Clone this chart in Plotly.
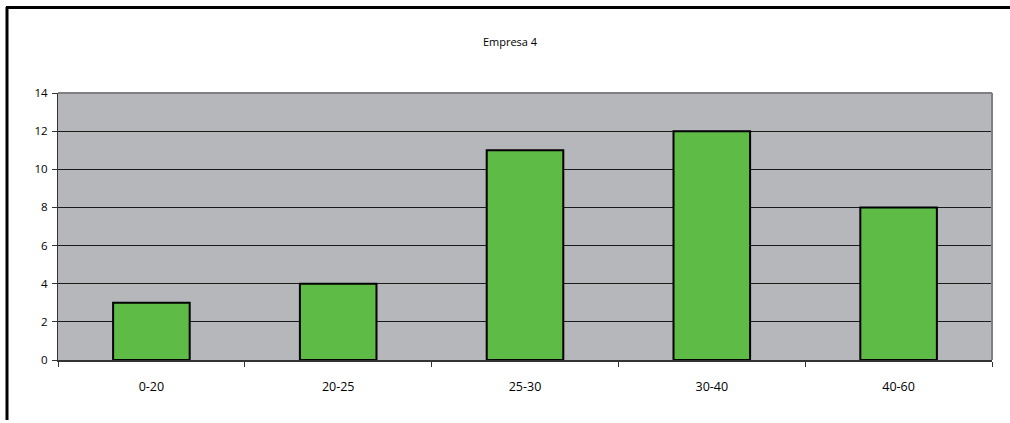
import plotly.graph_objects as go

categories = ["0-20", "20-25", "25-30", "30-40", "40-60"]
values = [3, 4, 11, 12, 8]
y_ticks = [0, 2, 4, 6, 8, 10, 12, 14]
title_text = "Empresa 4"

W, H = 1010, 420
L, R, T, B = 58, 18, 93, 60
pw, ph = W - L - R, H - T - B

def px_x(p):
    return (p - L) / pw

def px_y(p):
    return (H - B - p) / ph

fig = go.Figure()
fig.add_trace(go.Bar(
    x=categories, y=values,
    marker=dict(color="#5DBB46", line=dict(color="#000000", width=2)),
    width=0.41,
))

fig.update_layout(
    width=W, height=H,
    margin=dict(l=L, r=R, t=T, b=B),
    paper_bgcolor="white",
    plot_bgcolor="#B6B7BB",
    showlegend=False,
    font=dict(family="Open Sans, DejaVu Sans, sans-serif", size=11, color="#000000"),
    title=dict(text=title_text, x=510 / W, xanchor="center",
               y=1 - 42 / H, yanchor="middle", font=dict(size=11)),
    xaxis=dict(
        showgrid=False, tickson="boundaries", ticks="outside", ticklen=5,
        tickcolor="#333333", showline=True, linecolor="#333333", linewidth=2,
        tickfont=dict(size=12.5), ticklabelstandoff=14,
    ),
    yaxis=dict(
        range=[0, 14], tickvals=y_ticks, showgrid=True, gridcolor="#1a1a1a", gridwidth=1,
        ticks="outside", ticklen=5, tickcolor="#333333", showline=True,
        linecolor="#333333", linewidth=1, zeroline=False, tickfont=dict(size=11.5),
        ticklabelstandoff=2,
    ),
    shapes=[
        dict(type="line", xref="paper", yref="paper", x0=0, x1=1, y0=1, y1=1,
             line=dict(color="#808080", width=2)),
        dict(type="line", xref="paper", yref="paper", x0=1, x1=1, y0=0, y1=1,
             line=dict(color="#808080", width=2)),
        dict(type="line", xref="paper", yref="paper", x0=px_x(7), x1=px_x(7),
             y0=px_y(H), y1=px_y(7), line=dict(color="#000000", width=3)),
        dict(type="line", xref="paper", yref="paper", x0=px_x(6), x1=px_x(W),
             y0=px_y(7.5), y1=px_y(7.5), line=dict(color="#000000", width=3)),
    ],
)

fig.write_html(
    "out.html",
    config={"displayModeBar": False},
    post_script=(
        "var s=document.createElement('style');"
        "s.textContent='html,body{margin:0;padding:0;overflow:hidden;height:423px;width:1010px;}"
        "::-webkit-scrollbar{display:none;width:0;height:0;}';"
        "document.head.appendChild(s);"
    ),
)
